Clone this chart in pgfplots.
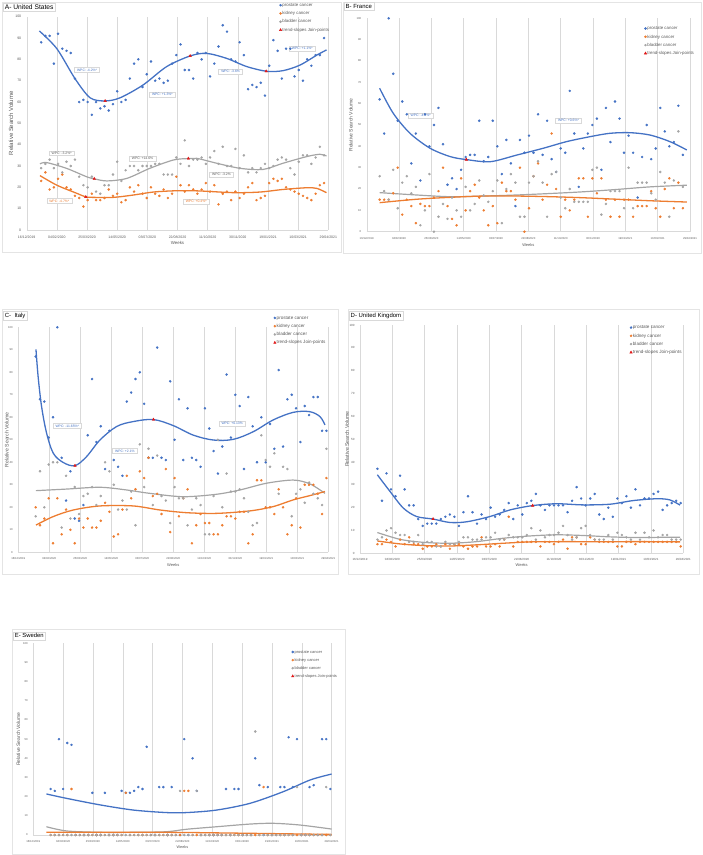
\documentclass[border=0pt]{standalone}
\usepackage{fontspec}
\setmainfont{Liberation Sans}
\usepackage{pgfplots}
\usepackage{pgfplotstable}
\pgfplotsset{compat=1.18}
\definecolor{cblue}{HTML}{4472C4}
\definecolor{corange}{HTML}{ED7D31}
\definecolor{cgray}{HTML}{A5A5A5}
\definecolor{cred}{HTML}{E01818}
\definecolor{cgrid}{HTML}{D9D9D9}
\definecolor{ctext}{HTML}{595959}
\definecolor{cbox}{HTML}{E4E4E4}

% United States
\pgfplotstableread{
p k b
88 23 29
91 27 31
91 19 33
78 20 29
92 24 31
85 26 27
84 20 32
83 19 30
71 16 33
60 15 25
61 11 21
60 14 20
54 17 25
60 14 18
57 14 17
58 15 21
56 19 21
59 16 26
65 17 32
60 13 23
61 14 28
71 20 30
78 18 30
80 21 28
67 17 30
73 15 30
79 20 30
70 17 31
71 16 31
69 19 26
70 15 26
78 17 26
82 25 34
87 21 31
75 18 42
75 21 30
71 19 33
83 17 33
80 19 34
83 22 31
72 18 34
78 21 37
86 12 31
96 17 39
93 18 30
80 14 30
79 18 38
88 15 29
82 17 35
66 20 27
68 22 29
67 14 27
69 15 29
63 16 31
77 22 29
89 24 30
84 23 33
71 24 34
85 20 33
85 19 29
72 18 26
75 17 32
70 16 35
80 15 35
77 14 31
82 17 34
82 21 39
90 22 35
}\dataA

% France
\pgfplotstableread{
p k b
62 15 26
46 15 19
100 15 15
74 18 29
52 30 11
61 8 23
55 15 26
32 12 18
46 4 21
24 13 3
55 12 10
40 12 27
50 16 0
58 19 7
41 30 13
22 12 6
25 6 16
20 3 10
29 25 7
35 10 21
36 19 10
36 22 13
52 16 24
33 10 17
35 3 14
52 12 19
40 4 24
27 23 4
43 19 20
32 19 27
12 15 23
43 30 7
37 0 7
45 11 23
37 26 26
55 32 33
36 15 23
52 22 7
34 46 27
28 20 28
39 7 16
37 15 11
66 10 20
46 15 14
21 25 14
39 25 14
46 7 14
50 25 29
53 18 30
29 25 8
58 15 13
42 7 19
61 15 19
53 7 19
37 15 11
45 15 30
37 7 11
16 12 23
35 12 23
50 12 23
34 19 18
39 11 15
58 7 28
47 20 23
40 25 7
42 11 24
59 23 47
36 11 21
}\dataB

% Italy
\pgfplotstableread{
p k b
87 20 16
68 12 36
67 15 20
51 24 39
60 4 40
100 24 40
42 8 11
23 19 34
36 10 15
15 4 29
14 15 17
21 11 25
52 15 26
77 11 29
49 11 21
56 14 25
37 22 40
54 18 36
41 7 30
38 8 19
34 19 23
67 34 19
71 24 27
77 28 12
80 36 48
66 33 29
42 42 46
42 25 21
91 26 43
42 17 25
41 37 23
76 9 13
50 33 29
68 16 24
41 24 24
64 28 12
42 4 19
41 12 24
38 17 21
64 13 8
55 13 8
45 8 25
35 8 50
47 12 20
79 16 35
51 16 27
70 15 27
65 18 28
37 18 24
69 4 18
56 8 12
40 32 13
60 32 52
40 20 41
57 20 38
46 17 44
81 28 26
47 20 38
68 8 37
70 12 16
64 24 26
49 11 28
65 30 22
61 30 31
69 30 26
69 26 24
54 17 21
54 33 46
}\dataC

% United Kingdom
\pgfplotstableread{
p k b
37 4 6
23 4 7
35 6 10
28 5 11
25 3 9
34 6 8
28 4 8
21 7 5
21 4 5
15 4 8
12 2 4
13 3 5
13 3 5
13 4 3
15 3 3
16 4 5
17 2 4
16 4 4
12 4 5
18 3 7
25 2 7
18 3 6
13 3 6
17 7 6
15 3 7
20 3 7
16 4 9
17 3 6
19 6 6
22 16 8
15 3 7
21 5 7
17 5 7
22 5 8
23 5 11
26 5 6
21 3 10
19 5 7
21 5 8
21 4 8
21 5 9
21 6 12
18 2 8
23 7 6
29 7 7
24 4 11
21 4 12
24 7 8
26 6 6
17 5 6
15 5 6
20 5 8
16 5 6
24 3 9
22 3 8
25 5 7
20 5 6
28 4 9
21 5 6
24 5 9
24 5 7
26 5 10
27 5 7
19 5 8
21 5 8
22 5 6
23 5 6
22 3 6
}\dataD

% Sweden
\pgfplotstableread{
p k b
24 0 0
23 0 0
50 0 0
24 0 0
48 0 0
47 24 0
0 0 0
0 0 0
0 0 0
0 0 0
22 0 0
0 0 0
0 0 0
22 0 0
0 0 0
0 0 0
0 0 0
23 0 0
22 22 0
22 0 0
23 0 0
25 0 0
24 0 0
46 0 0
0 0 0
0 0 0
25 0 0
25 0 0
0 0 0
25 0 0
0 0 0
0 0 23
50 23 0
0 23 0
40 0 0
23 0 23
0 0 0
0 0 0
0 0 0
0 0 0
0 0 0
0 0 0
24 0 0
0 0 0
24 0 0
24 0 0
0 0 0
0 0 0
0 0 0
40 0 54
26 0 0
0 25 0
25 0 0
0 0 0
0 0 0
25 0 0
25 0 0
51 0 0
25 0 0
50 0 25
0 0 0
0 0 0
25 0 0
26 0 0
0 0 0
50 0 0
50 0 25
24 0 0
}\dataE

\pgfplotsset{
  panel/.style={
    scale only axis, anchor=south west, clip=false,
    xmin=0, xmax=500, ymin=0, ymax=100,
    xtick={0,50,...,500},
    xticklabels={16/12/2019,04/02/2020,25/03/2020,14/05/2020,03/07/2020,22/08/2020,11/10/2020,30/11/2020,19/01/2021,10/03/2021,29/04/2021},
    ytick={0,10,...,100},
    axis x line*=bottom, axis y line*=left,
    x axis line style={draw=cgrid, -},
    y axis line style={draw=none},
    major tick length=0pt,
    xmajorgrids, major grid style={draw=cgrid, line width=0.4pt},
    /pgf/number format/assume math mode=true,
    ticklabel style={text=ctext},
    xticklabel style={yshift=-2pt},
    yticklabel style={xshift=-2pt},
    label style={text=ctext},
    xlabel={Weeks}, ylabel={Relative Search Volume},
    legend cell align=left,
    legend image code/.code={\draw[mark repeat=2,mark phase=2,##1] plot coordinates {(0pt,0pt)(1.2pt,0pt)(2.4pt,0pt)};},
    legend style={draw=none, fill=none, text=ctext, anchor=north west, inner sep=0pt,
      row sep=3.1pt, column sep=0.3pt,
      nodes={inner sep=0.4pt, text height=3.4pt, text depth=1pt}},
  },
}
\tikzset{
  wpc/.style={draw=cgrid, fill=white, inner xsep=2.6pt, inner ysep=1.3pt, font=\fontsize{3.4}{4}\selectfont},
  ttl/.style={draw=cgrid, fill=white, anchor=north west, inner xsep=2pt, inner ysep=1.8pt, text=black},
}
\newcommand{\legimages}{%
  \addlegendimage{only marks, mark=*, mark size=1.05pt, cblue}\addlegendentry{prostate cancer}
  \addlegendimage{only marks, mark=*, mark size=1.05pt, corange}\addlegendentry{kidney cancer}
  \addlegendimage{only marks, mark=*, mark size=1.05pt, cgray}\addlegendentry{bladder cancer}
  \addlegendimage{only marks, mark=triangle*, mark size=1.4pt, cred}\addlegendentry{trend-slopes Join-points}}
\newcommand{\pts}[4]{\addplot[only marks, mark=*, mark size=1.05pt, color=#3, forget plot] table[x expr=\coordindex*7+#4, y=#2]{#1};}

\begin{document}
\begin{tikzpicture}
\path[use as bounding box] (0,0) rectangle (703bp,855bp);
\draw[cbox, line width=0.5pt] (2.7bp,602.7bp) rectangle (341.7bp,852.3bp);
\draw[cbox, line width=0.5pt] (343.5bp,601.7bp) rectangle (701.5bp,853bp);
\draw[cbox, line width=0.5pt] (2.7bp,281bp) rectangle (338.3bp,545.7bp);
\draw[cbox, line width=0.5pt] (348bp,281bp) rectangle (699bp,545.7bp);
\draw[cbox, line width=0.5pt] (12.7bp,0.5bp) rectangle (345bp,225.3bp);

% ---------------- A United States
\begin{axis}[panel, at={(26.7bp,625bp)}, width=301.6bp, height=213.3bp,
  ticklabel style={font=\fontsize{3.5}{4}\selectfont},
  xlabel style={font=\fontsize{4.4}{5}\selectfont, at={(axis description cs:0.5,-0.062)}, anchor=center},
  ylabel style={font=\fontsize{6}{7}\selectfont, at={(axis description cs:-0.052,0.5)}, anchor=center},
  legend style={font=\fontsize{4.4}{5}\selectfont, at={(axis description cs:0.837,1.067)}}]
\legimages
\addplot[cblue, line width=1.3pt, smooth, forget plot] coordinates {(21,93.3)(50,85)(80,71)(105,62)(130,60.5)(155,62)(193,68)(232,76.6)(271,81.6)(298,82.8)(331,80.5)(365,76.6)(398,74.4)(425,74.7)(453,77.3)(481,82)(497,84.4)};
\addplot[cgray, line width=1.2pt, smooth, forget plot] coordinates {(22,31)(33,31.6)(66,28.9)(99,25)(112,24)(133,23)(166,24.2)(204,28.9)(243,32.8)(268,33.5)(282,33.6)(315,31.3)(354,28.9)(392,28.4)(425,31.3)(464,34.4)(486,35.5)(497,34.7)};
\addplot[corange, line width=1.3pt, smooth, forget plot] coordinates {(22,25.5)(50,21)(83,17.2)(98,15.5)(110,15.3)(144,15.3)(177,16.4)(210,17.8)(249,18.4)(287,18.3)(343,17.5)(387,17.8)(425,19)(464,19.8)(481,19.5)(497,17.5)};
\pts{\dataA}{p}{cblue}{24}
\pts{\dataA}{k}{corange}{24}
\pts{\dataA}{b}{cgray}{24}
\addplot[only marks, mark=triangle*, mark size=1.5pt, cred, forget plot] coordinates {(130,60.5)(271,81.6)(397,74.4)(112,24)(268,33.5)(98,15.5)};
\node[wpc, text=cblue] at (axis cs:100,75) {WPC: -4.2\%*};
\node[wpc, text=cblue] at (axis cs:225,63.6) {WPC: +1.3\%*};
\node[wpc, text=cblue] at (axis cs:338,74.2) {WPC: -3.6\%};
\node[wpc, text=cblue] at (axis cs:457,85) {WPC: +1.1\%*};
\node[wpc, text=ctext] at (axis cs:58,36) {WPC: -3.2\%*};
\node[wpc, text=ctext] at (axis cs:192,33.4) {WPC: +14.6\%};
\node[wpc, text=ctext] at (axis cs:323,26.1) {WPC: -3.2\%};
\node[wpc, text=corange] at (axis cs:54,13.6) {WPC: -4.7\%*};
\node[wpc, text=corange] at (axis cs:281,13.4) {WPC: +0.4\%*};
\end{axis}

% ---------------- B France
\begin{axis}[panel, at={(366.7bp,623.3bp)}, width=323.3bp, height=213.4bp,
  ticklabel style={font=\fontsize{2.8}{3.2}\selectfont},
  xlabel style={font=\fontsize{4}{5}\selectfont, at={(axis description cs:0.5,-0.062)}, anchor=center},
  ylabel style={font=\fontsize{5}{6}\selectfont, at={(axis description cs:-0.049,0.5)}, anchor=center},
  legend style={font=\fontsize{4.4}{5}\selectfont, at={(axis description cs:0.858,0.965)}}]
\legimages
\addplot[cblue, line width=1.3pt, smooth, forget plot] coordinates {(20,67.2)(41,55.5)(67,46.1)(98,39.1)(129,35.2)(154,33.8)(191,32.8)(232,35.9)(273,39.1)(309,42.2)(345,44.5)(376,46.1)(407,46.4)(438,45.3)(469,42.2)(495,38.3)};
\addplot[cgray, line width=1.2pt, smooth, forget plot] coordinates {(20,18.3)(77,17.2)(129,16.4)(180,16.7)(232,17.2)(284,17.9)(335,18.7)(387,19.8)(438,21)(495,21.8)};
\addplot[corange, line width=1.3pt, smooth, forget plot] coordinates {(20,13.6)(77,15.2)(129,16.1)(180,16.7)(232,16.7)(284,16.4)(335,15.9)(387,15.2)(438,14.5)(495,13.9)};
\pts{\dataB}{p}{cblue}{20}
\pts{\dataB}{k}{corange}{20}
\pts{\dataB}{b}{cgray}{20}
\addplot[only marks, mark=triangle*, mark size=1.5pt, cred, forget plot] coordinates {(154,33.8)};
\node[wpc, text=cblue] at (axis cs:83.5,54.4) {WPC: -4.6\%*};
\node[wpc, text=cblue] at (axis cs:312,52) {WPC: +0.6\%*};
\end{axis}

% ---------------- C Italy
\begin{axis}[panel, at={(18.3bp,302.7bp)}, width=310bp, height=225bp,
  ticklabel style={font=\fontsize{2.8}{3.2}\selectfont},
  xlabel style={font=\fontsize{4}{5}\selectfont, at={(axis description cs:0.5,-0.056)}, anchor=center},
  ylabel style={font=\fontsize{5.2}{6}\selectfont, at={(axis description cs:-0.037,0.5)}, anchor=center},
  legend style={font=\fontsize{4.6}{5}\selectfont, at={(axis description cs:0.823,1.054)}}]
\legimages
\addplot[cblue, line width=1.3pt, smooth, tension=0.55, forget plot] coordinates {(28.5,90.2)(32,78)(37.6,64.7)(45.7,52.9)(56.5,44)(72.6,39.9)(91.4,38.5)(110,42.5)(131.7,49.9)(158.6,55.9)(185.5,58.1)(218,59)(250,56.3)(282,52.1)(314.5,49.9)(346.8,50.2)(379,53.6)(411,58.8)(443.5,62.2)(470,62.5)(486.6,60.3)(494.6,56.6)};
\addplot[cgray, line width=1.2pt, smooth, forget plot] coordinates {(28.5,27.4)(78,28.1)(131.7,28.9)(174.7,27.7)(212,26.2)(266,24.7)(320,25.8)(357.5,27.7)(400.5,30.7)(443.5,32.1)(470.4,30.4)(494.6,26.2)};
\addplot[corange, line width=1.3pt, smooth, forget plot] coordinates {(28.5,12.1)(56.5,15.9)(88.7,18.8)(131.7,20.6)(185.5,20.6)(228.5,18.8)(271.5,17.6)(320,17.3)(373.7,18.4)(411,20.3)(443.5,23.3)(470.4,25.2)(494.6,27)};
\pts{\dataC}{p}{cblue}{28}
\pts{\dataC}{k}{corange}{28}
\pts{\dataC}{b}{cgray}{28}
\addplot[only marks, mark=triangle*, mark size=1.5pt, cred, forget plot] coordinates {(91.4,38.5)(218,59)};
\node[wpc, text=cblue] at (axis cs:79,56.1) {WPC: -11.65\%*};
\node[wpc, text=cblue] at (axis cs:172,45) {WPC: +2.1\%};
\node[wpc, text=cblue] at (axis cs:345,57.3) {WPC: +0.13\%};
\end{axis}

% ---------------- D United Kingdom
\begin{axis}[panel, at={(360bp,301.7bp)}, width=323.3bp, height=228.3bp,
  ticklabel style={font=\fontsize{3}{3.4}\selectfont},
  xlabel style={font=\fontsize{4}{5}\selectfont, at={(axis description cs:0.5,-0.051)}, anchor=center},
  ylabel style={font=\fontsize{5.2}{6}\selectfont, at={(axis description cs:-0.04,0.5)}, anchor=center},
  legend style={font=\fontsize{4.6}{5}\selectfont, at={(axis description cs:0.834,1.001)}}]
\legimages
\addplot[cblue, line width=1.3pt, smooth, forget plot] coordinates {(26.8,34.4)(46.4,27.1)(67,19.8)(87.6,16.1)(113,15)(139,13.5)(165,13.8)(201,16.1)(232,19)(267,20.9)(304,21.7)(345,21.2)(386.6,21.5)(422.7,23.1)(458.8,23.9)(479,23.4)(495,21.1)};
\addplot[cgray, line width=1.2pt, smooth, forget plot] coordinates {(26.8,9.1)(62,6.1)(98,4.8)(139,4.4)(180,5.1)(221.6,6.6)(263,7.6)(304,8.1)(345,7.8)(386.6,7.2)(427.8,6.9)(469,7)(495,7)};
\addplot[corange, line width=1.3pt, smooth, forget plot] coordinates {(26.8,5.4)(62,4.1)(98,3.4)(139,3.2)(180,3.7)(221.6,4.4)(263,5)(304,5.1)(345,5.1)(397,5.1)(448,5.1)(495,5)};
\pts{\dataD}{p}{cblue}{27}
\pts{\dataD}{k}{corange}{27}
\pts{\dataD}{b}{cgray}{27}
\addplot[only marks, mark=triangle*, mark size=1.5pt, cred, forget plot] coordinates {(113,15)(267,20.9)};
\end{axis}

% ---------------- E Sweden
\begin{axis}[panel, at={(33.3bp,20bp)}, width=298.3bp, height=191.7bp,
  ticklabel style={font=\fontsize{2.8}{3.2}\selectfont},
  xlabel style={font=\fontsize{3.8}{4.5}\selectfont, at={(axis description cs:0.5,-0.061)}, anchor=center},
  ylabel style={font=\fontsize{5}{6}\selectfont, at={(axis description cs:-0.05,0.5)}, anchor=center},
  legend style={font=\fontsize{4}{5}\selectfont, row sep=2.9pt, at={(axis description cs:0.865,0.969)}}]
\legimages
\addplot[cblue, line width=1.3pt, smooth, forget plot] coordinates {(22,21.4)(56,19.1)(112,15.7)(168,13)(223,11.7)(257,11.7)(307,13)(363,16.5)(419,22.6)(464,28.7)(500,31.8)};
\addplot[cgray, line width=1.2pt, smooth, forget plot] coordinates {(22,4.3)(56,2.1)(112,1.4)(168,1.4)(223,1.7)(257,3)(307,4.3)(363,5.7)(402,6.1)(447,5.2)(500,3.1)};
\addplot[corange, line width=1.3pt, smooth, forget plot] coordinates {(22,1.4)(112,1.4)(223,1.4)(335,1)(500,0.3)};
\pts{\dataE}{p}{cblue}{29}
\pts{\dataE}{k}{corange}{29}
\pts{\dataE}{b}{cgray}{29}
\end{axis}

% titles
\node[ttl, font=\fontsize{6.7}{7}\selectfont] at (2.7bp,852.3bp) {A- United States};
\node[ttl, font=\fontsize{6}{7}\selectfont] at (343.5bp,853bp) {B- France};
\node[ttl, font=\fontsize{6}{7}\selectfont] at (2.7bp,544.3bp) {C-\ \ Italy};
\node[ttl, font=\fontsize{6}{7}\selectfont] at (348.5bp,544.3bp) {D- United Kingdom};
\node[ttl, font=\fontsize{5.9}{7}\selectfont] at (12.7bp,223.3bp) {E- Sweden};
\end{tikzpicture}
\end{document}
